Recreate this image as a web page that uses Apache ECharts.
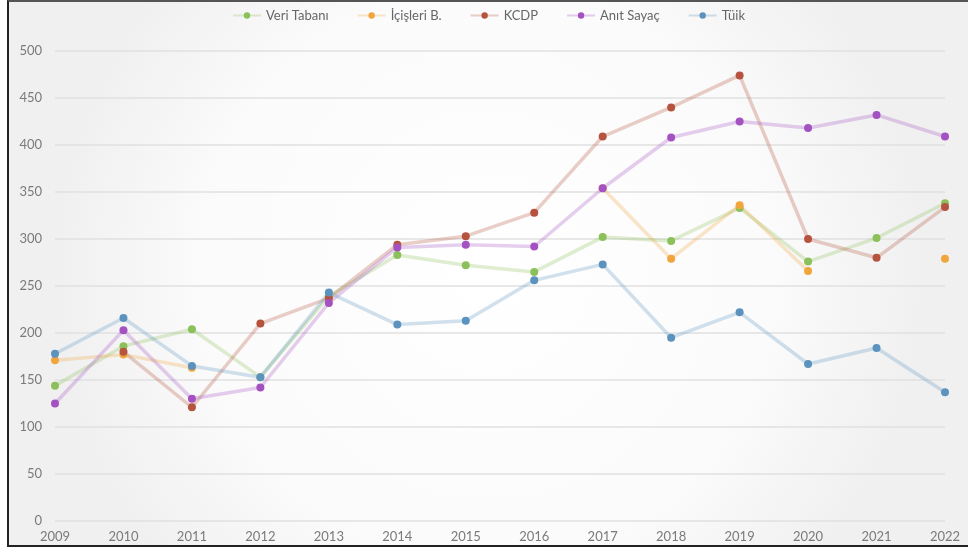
<!DOCTYPE html>
<html>
<head>
<meta charset="utf-8">
<script src="https://cdn.jsdelivr.net/npm/echarts@6/dist/echarts.min.js"></script>
<style>
  html, body { margin: 0; padding: 0; background: #fff; }
  #chart {
    position: absolute; left: 7px; top: 0px; width: 961px; height: 547px;
    box-sizing: border-box;
    border-top: 2px solid #555; border-left: 2px solid #222; border-bottom: 2px solid #222;
  }
</style>
</head>
<body>
<div id="chart"></div>
<script>
  var years = ['2009', '2010', '2011', '2012', '2013', '2014', '2015', '2016', '2017', '2018', '2019', '2020', '2021', '2022']
  var veriTabani = [144, 186, 204, 153, 239, 283, 272, 265, 302, 298, 333, 276, 301, 338]
  var icisleri = [171, 177, 163, null, null, null, null, null, 354, 279, 336, 266, null, 279]
  var kcdp = [null, 180, 121, 210, 237, 294, 303, 328, 409, 440, 474, 300, 280, 334]
  var anitSayac = [125, 203, 130, 142, 232, 291, 294, 292, 354, 408, 425, 418, 432, 409]
  var tuik = [178, 216, 165, 153, 243, 209, 213, 256, 273, 195, 222, 167, 184, 137]

  var names = ['Veri Tabanı', 'İçişleri B.', 'KCDP', 'Anıt Sayaç', 'Tüik']
  var datas = [veriTabani, icisleri, kcdp, anitSayac, tuik]
  var colors = ['#8cc05a', '#f0a63c', '#b5533e', '#a452c2', '#5b93be']

  var chart = echarts.init(document.getElementById('chart'))
  var series = []
  for (var i = 0; i < datas.length; i++) {
    series.push({
      name: names[i],
      type: 'line',
      data: datas[i],
      symbol: 'circle',
      symbolSize: 8,
      connectNulls: false,
      itemStyle: { color: colors[i] },
      lineStyle: { width: 3.5, color: colors[i], opacity: 0.28 }
    })
  }

  chart.setOption({
    backgroundColor: new echarts.graphic.RadialGradient(0.5, 0.5, 0.8, [
      { offset: 0, color: '#ffffff' },
      { offset: 0.65, color: '#fbfbfb' },
      { offset: 1, color: '#f0f0f0' }
    ]),
    color: colors,
    textStyle: { fontFamily: 'Lato, sans-serif' },
    legend: {
      data: names,
      top: 2,
      left: 'center',
      itemWidth: 28,
      itemHeight: 8,
      itemGap: 28,
      textStyle: { color: '#666', fontSize: 13 }
    },
    grid: {
      left: 46,
      right: 23,
      top: 49,
      bottom: 24,
      containLabel: false
    },
    xAxis: {
      type: 'category',
      data: years,
      boundaryGap: false,
      axisLine: { show: false },
      axisTick: { show: false },
      axisLabel: { color: '#7a7a7a', fontSize: 13, margin: 9 },
      splitLine: { show: false }
    },
    yAxis: {
      type: 'value',
      min: 0,
      max: 500,
      interval: 50,
      axisLine: { show: false },
      axisTick: { show: false },
      axisLabel: { color: '#7a7a7a', fontSize: 13, margin: 13 },
      splitLine: { show: true, lineStyle: { color: '#e0e0e0', width: 1.5 } }
    },
    series: series
  })
</script>
</body>
</html>
